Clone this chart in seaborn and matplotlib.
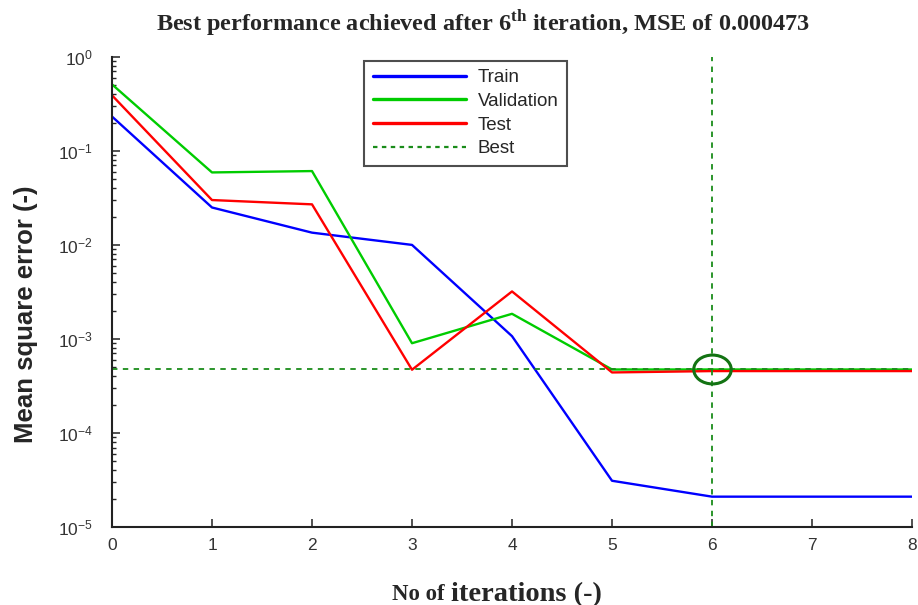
import numpy as np
import pandas as pd
import matplotlib
matplotlib.use("Agg")
import matplotlib.pyplot as plt
import seaborn as sns
from matplotlib.path import Path
from matplotlib.transforms import Affine2D
from matplotlib.lines import Line2D
from matplotlib.ticker import LogLocator, LogFormatterMathtext, FixedLocator

# Training record of the network (MSE per epoch)
epochs = [0, 1, 2, 3, 4, 5, 6, 7, 8]
train_mse = [0.232, 0.025, 0.0135, 0.0100, 0.00107, 3.1e-5, 2.1e-5, 2.1e-5, 2.1e-5]
val_mse = [0.51, 0.059, 0.061, 0.00090, 0.00185, 0.000473, 0.000473, 0.000473, 0.000473]
test_mse = [0.39, 0.030, 0.027, 0.00047, 0.0032, 0.00044, 0.000455, 0.000455, 0.000455]
best_epoch = 6
best_mse = 0.000473
x_ticks = [0, 1, 2, 3, 4, 5, 6, 7, 8]

df = pd.DataFrame({
    "epoch": epochs * 3,
    "mse": train_mse + val_mse + test_mse,
    "set": ["Train"] * 9 + ["Validation"] * 9 + ["Test"] * 9,
})

sns.set_theme(style="ticks")
plt.rcParams["font.family"] = ["Liberation Sans", "DejaVu Sans"]
plt.rcParams["mathtext.fontset"] = "custom"
plt.rcParams["mathtext.rm"] = "Liberation Sans"
plt.rcParams["mathtext.it"] = "Liberation Sans"
plt.rcParams["mathtext.bf"] = "Liberation Serif:bold"

fig = plt.figure(figsize=(9.18, 6.05), dpi=100)
ax = fig.add_axes([0.122, 0.129, 0.8715, 0.777])

palette = {"Train": "#0000ff", "Validation": "#00cc00", "Test": "#ff0000"}
sns.lineplot(data=df, x="epoch", y="mse", hue="set", palette=palette,
             hue_order=["Train", "Validation", "Test"], linewidth=1.7,
             ax=ax, legend=False)

ax.axhline(best_mse, color="#1a8c1a", linestyle=(0, (3, 3)), linewidth=1.3)
ax.axvline(best_epoch, color="#1a8c1a", linestyle=(0, (3, 3)), linewidth=1.3)

ax.set_yscale("log")
ax.set_ylim(1e-5, 1)
ax.set_xlim(0, 8)

# best-point marker: a flat ellipse
ellipse = Path.unit_circle().transformed(Affine2D().scale(1.3, 1.0))
ax.plot([best_epoch], [best_mse], marker=ellipse, markersize=27, markerfacecolor="none",
        markeredgecolor="#137313", markeredgewidth=2.2, linestyle="none")

ax.xaxis.set_major_locator(FixedLocator(x_ticks))
ax.yaxis.set_major_locator(LogLocator(base=10))
ax.yaxis.set_minor_locator(LogLocator(base=10, subs=np.arange(2, 10)))
ax.yaxis.set_major_formatter(LogFormatterMathtext())
ax.yaxis.set_minor_formatter(plt.NullFormatter())
ax.tick_params(axis="both", direction="in", colors="#333333", labelsize=12.5,
               length=6, width=1.2, labelcolor="#333333")
ax.tick_params(axis="y", which="minor", direction="in", length=3, width=1)
ax.tick_params(axis="x", pad=8)
ax.tick_params(axis="y", pad=14)
for s in ["top", "right"]:
    ax.spines[s].set_visible(False)
for s in ["left", "bottom"]:
    ax.spines[s].set_linewidth(1.5)
    ax.spines[s].set_color("#222222")
ax.set_xlabel("")
ax.set_ylabel("")

# Legend
handles = [
    Line2D([], [], color="#0000ff", lw=2.4),
    Line2D([], [], color="#00cc00", lw=2.4),
    Line2D([], [], color="#ff0000", lw=2.4),
    Line2D([], [], color="#1a8c1a", lw=1.6, linestyle=(0, (2, 2))),
]
leg = ax.legend(handles, ["Train", "Validation", "Test", "Best"],
                loc="upper left", bbox_to_anchor=(0.3035, 1.012), fontsize=13.5,
                frameon=True, fancybox=False, edgecolor="#222222",
                handlelength=5.0, borderpad=0.45, labelspacing=0.35,
                handletextpad=0.6)
leg.get_frame().set_linewidth(1.5)

fig.text(0.526, 0.962, r"Best performance achieved after 6$^{\mathbf{th}}$ iteration, MSE of 0.000473",
         ha="center", va="center", fontsize=17.5, fontweight="bold",
         family="Liberation Serif")
fig.text(0.028, 0.48, "Mean square error (-)", rotation=90, ha="center", va="center",
         fontsize=18.5, fontweight="bold")
fig.text(0.491, 0.018, "No of ", ha="right", va="center", fontsize=16.5,
         fontweight="bold", family="Liberation Serif")
fig.text(0.491, 0.018, "iterations (-)", ha="left", va="center", fontsize=20.5,
         fontweight="bold", family="Liberation Serif")

fig.savefig("out.png", dpi=100)
